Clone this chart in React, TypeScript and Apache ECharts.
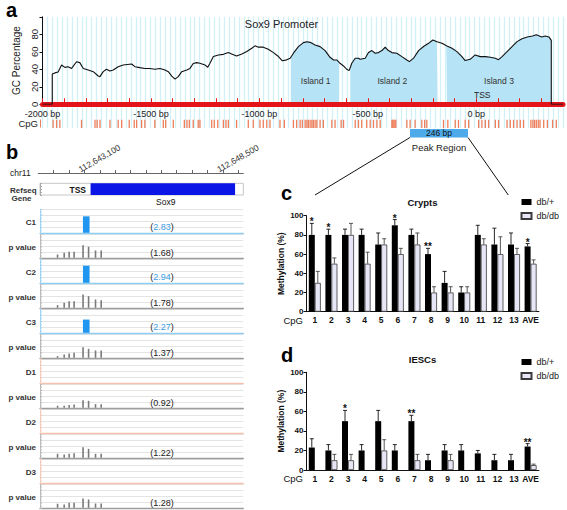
import React, { useEffect, useRef } from 'react';
import * as echarts from 'echarts';

const FONT = '"Liberation Sans", Arial, Helvetica, sans-serif';

// ---------------- panel a : GC profile of the Sox9 promoter ----------------
const gcCurve: number[][] = [
  [-2000, 0], [-1955, 0], [-1955, 34.6], [-1943, 35.9], [-1928, 37], [-1912, 44.9], [-1897, 42.2], [-1882, 43],
  [-1866, 41], [-1843, 48.6], [-1828, 47.6], [-1812, 41], [-1789, 39.2], [-1766, 37.3], [-1743, 32.3], [-1735, 31.6],
  [-1720, 37.3], [-1705, 40], [-1689, 38], [-1674, 39.2], [-1651, 43], [-1628, 45], [-1589, 46], [-1574, 43],
  [-1551, 41.9], [-1528, 41], [-1505, 41], [-1482, 40], [-1458, 41], [-1435, 39.2], [-1420, 37.3], [-1404, 32.3],
  [-1389, 28.8], [-1374, 31.6], [-1358, 37.3], [-1335, 39.2], [-1320, 41], [-1305, 46.7], [-1289, 47.6], [-1274, 46.9],
  [-1251, 45], [-1238, 42.4], [-1228, 46.9], [-1212, 54.6], [-1189, 56.4], [-1166, 57.1], [-1143, 59.1], [-1128, 57.6],
  [-1105, 55.3], [-1081, 57.6], [-1058, 60.3], [-1035, 64.1], [-1020, 66.8], [-1005, 65.3], [-982, 65.3], [-959, 63],
  [-935, 59.1], [-912, 54.6], [-894, 49.7], [-874, 50.8], [-858, 52.7], [-843, 58.4], [-820, 65.9], [-797, 70.5],
  [-781, 71.5], [-766, 70.8], [-743, 67.8], [-720, 65.9], [-697, 61.3], [-674, 53.7], [-658, 50.7], [-643, 50.7],
  [-628, 46.9], [-612, 43.8], [-597, 40], [-586, 38.5], [-574, 46.9], [-558, 52.7], [-543, 52.7], [-535, 51.4],
  [-512, 52.7], [-497, 59.1], [-481, 61.4], [-466, 58.3], [-451, 59.1], [-435, 61.4], [-420, 65.2], [-405, 61.4],
  [-389, 59.1], [-366, 58.3], [-343, 54.5], [-320, 50.7], [-308, 48.8], [-289, 52.7], [-266, 61.4], [-243, 66],
  [-220, 69.7], [-200, 73.5], [-181, 71.6], [-158, 69.7], [-135, 66.7], [-112, 64], [-89, 60.2], [-66, 54.5],
  [-51, 50], [-28, 51.4], [-5, 56.4], [18, 54.5], [42, 54.5], [65, 53.7], [88, 52.7], [103, 51],
  [119, 54.5], [142, 60.2], [165, 65.9], [188, 71.6], [211, 75], [235, 77], [260, 78], [277, 79.5],
  [302, 77], [318, 78], [335, 77], [346, 73], [346, 0], [400, 0],
];
const islandSpans: number[][] = [[-855, -632], [-581, -178], [-138, 346]];
const islandNames = ['Island 1', 'Island 2', 'Island 3'];
const bpRange = [-2000, 400];
const cpgSites = [
  -1951, -1935, -1920, -1820, -1758, -1748, -1735, -1689, -1651, -1635, -1600, -1577, -1566, -1543, -1528, -1482,
  -1443, -1432, -1397, -1346, -1334, -1323, -1305, -1282, -1274, -1220, -1208, -1192, -1166, -1154, -1143, -1105,
  -1051, -1028, -997, -982, -966, -951, -905, -885, -843, -828, -812, -802, -789, -781, -774, -766, -758, -751,
  -743, -735, -720, -705, -666, -651, -623, -612, -558, -543, -528, -505, -489, -474, -458, -443, -389, -385,
  -380, -375, -371, -320, -305, -282, -251, -238, -228, -151, -131, -97, -82, -51, -35, 11, 26, 42, 57, 88,
  103, 142, 157, 172, 188, 203, 218, 252, 261, 269, 277, 286, 294, 311, 328, 352, 369,
];

// ---------------- panel b : genome browser tracks ----------------
const chrRange = [112641500, 112649500];
const chrLabels = [112643100, 112648500];
const chrTicks = [112642100, 112642700, 112643300, 112643900, 112644500, 112645100, 112645700, 112646300,
  112646900, 112647500, 112648100, 112648700, 112649300];
const geneSpan = [112643490, 112649176];
const peakSpan = [112643190, 112643450];
const trackNames = ['C1', 'p value', 'C2', 'p value', 'C3', 'p value', 'D1', 'p value', 'D2', 'p value', 'D3', 'p value'];
const peakScores = [2.83, 2.94, 2.27];
const pScores = [1.68, 1.78, 1.37, 0.92, 1.22, 1.28];
const pBarPos = [112642191, 112642452, 112642647, 112642842, 112643194, 112643412, 112643685, 112643908];
const pBarsC1 = [0.57, 0.86, 1.03, 1.03, 2.17, 1.89, 1.26, 1.26];
const pBarsC2 = [0.46, 0.86, 1.14, 1.14, 2.29, 2.0, 1.43, 1.31];
const pBarsC3 = [0.29, 0.57, 0.74, 0.86, 1.83, 1.54, 1.26, 1.26];
const pBarsD1 = [0.34, 0.34, 0.46, 0.57, 1.31, 1.2, 0.63, 0.63];
const pBarsD2 = [0.69, 0.57, 0.69, 0.8, 1.83, 1.54, 0.69, 0.69];
const pBarsD3 = [0.69, 0.57, 0.86, 0.86, 1.6, 1.43, 0.74, 0.74];
const pBars = [pBarsC1, pBarsC2, pBarsC3, pBarsD1, pBarsD2, pBarsD3];

// ---------------- panels c, d : methylation ----------------
const cpgCats = ['1', '2', '3', '4', '5', '6', '7', '8', '9', '10', '11', '12', '13', 'AVE'];
const cryptsDbPlus = [80, 80, 80, 80, 70, 90, 80, 60, 30, 20, 80, 70, 70, 68];
const cryptsDbPlusErr = [12, 6, 6, 6, 12, 6, 6, 6, 12, 6, 10, 17, 12, 3];
const cryptsDbDb = [30, 50, 80, 50, 70, 60, 70, 20, 20, 20, 70, 60, 60, 50];
const cryptsDbDbErr = [12, 6, 12, 12, 6, 6, 12, 6, 6, 6, 6, 18, 6, 4];
const cryptsSig = ['*', '*', '', '', '', '*', '', '**', '', '', '', '', '', '*'];
const iescDbPlus = [23, 20, 50, 20, 50, 20, 50, 10, 20, 20, 17, 10, 10, 24];
const iescDbPlusErr = [9, 6, 11, 6, 11, 6, 6, 6, 6, 6, 3, 6, 6, 3];
const iescDbDb = [0, 10, 10, 0, 20, 0, 10, 0, 10, 0, 0, 0, 0, 5];
const iescDbDbErr = [0, 6, 6, 0, 11, 0, 6, 0, 6, 0, 0, 0, 0, 1];
const iescSig = ['', '', '*', '', '', '', '**', '', '', '', '', '', '', '**'];

// ---------------- helpers ----------------
function interp(curve: number[][], x: number): number {
  for (let i = 0; i < curve.length - 1; i++) {
    const a = curve[i], b = curve[i + 1];
    if (b[0] > a[0] && x >= a[0] && x <= b[0]) return a[1] + (b[1] - a[1]) * (x - a[0]) / (b[0] - a[0]);
  }
  return 0;
}
function clip(curve: number[][], s: number, e: number): number[][] {
  const out: number[][] = [[s, interp(curve, s)]];
  curve.forEach((p) => { if (p[0] > s && p[0] < e) out.push(p); });
  out.push([e, interp(curve, e)]);
  return out;
}
function txt(text: string, x: number, y: number, o: any = {}): any {
  const align = o.align || 'left';
  const valign = o.valign || 'middle';
  return {
    type: 'text', x, y, silent: true, rotation: o.rotation || 0, z: 100,
    style: {
      text, x: 0, y: 0,
      fill: o.color || '#222',
      font: `${o.weight || 'normal'} ${o.size || 9}px ${FONT}`,
      textAlign: align, textVerticalAlign: valign, align, verticalAlign: valign,
      rich: o.rich,
    },
  };
}

const hiddenX = (grid: number, range: number[]) => ({
  gridIndex: grid, type: 'value', min: range[0], max: range[1], show: false,
});

export default function App() {
  const ref = useRef<HTMLDivElement>(null);
  useEffect(() => {
    document.body.style.margin = '0';
    const chart = echarts.init(ref.current!, null, { renderer: 'svg' });

    const grid: any[] = [];
    const xAxis: any[] = [];
    const yAxis: any[] = [];
    const series: any[] = [];
    const graphic: any[] = [];

    // ===== panel a =====
    grid.push({ left: 42.5, top: 16.8, width: 520.5, height: 87.5 }); // 0
    grid.push({ left: 42.5, top: 107.5, width: 520.5, height: 20.5 }); // 1
    xAxis.push({
      gridIndex: 0, type: 'value', min: bpRange[0], max: bpRange[1], interval: 100, position: 'bottom', z: 3,
      axisLine: { show: true, onZero: false, lineStyle: { color: '#e3151a', width: 5 } },
      axisTick: { show: true, inside: true, length: 6, lineStyle: { color: '#e3151a', width: 1 } },
      axisLabel: {
        fontSize: 9, color: '#222', margin: 5, fontFamily: FONT, showMaxLabel: false,
        formatter: (v: number) => (v % 500 === 0 ? `${v} bp` : ''),
      },
      splitLine: { show: false },
    });
    const stripes = (g: number) => ({
      gridIndex: g, type: 'value', min: 0, max: 106, interval: 1, position: 'top',
      axisLine: { show: false }, axisTick: { show: false }, axisLabel: { show: false },
      splitLine: { show: true, lineStyle: { color: '#d2f0f8', width: 1.3 } },
    });
    xAxis.push(stripes(0));
    xAxis.push(hiddenX(1, bpRange));
    xAxis.push(stripes(1));
    yAxis.push({
      gridIndex: 0, type: 'value', min: 0, max: 100, interval: 20,
      axisLine: { show: true, onZero: false, lineStyle: { color: '#111' } },
      axisTick: { show: true, length: 3, lineStyle: { color: '#111' } },
      axisLabel: { rotate: 90, fontSize: 9.5, color: '#222', margin: 3, fontFamily: FONT,
        formatter: (v: number) => (v === 100 ? '' : String(v)) },
      splitLine: { show: false },
      name: 'GC Percentage', nameLocation: 'middle', nameGap: 18, nameRotate: 90,
      nameTextStyle: { fontSize: 10, color: '#222', fontFamily: FONT },
    });
    yAxis.push({ gridIndex: 1, type: 'value', min: 0, max: 1, show: false });

    islandSpans.forEach((sp) => {
      series.push({
        type: 'line', xAxisIndex: 0, yAxisIndex: 0, data: clip(gcCurve, sp[0], sp[1]), symbol: 'none',
        lineStyle: { width: 0 }, areaStyle: { color: '#b6e3f5', opacity: 1 }, z: 2, silent: true,
      });
    });
    series.push({
      type: 'line', xAxisIndex: 0, yAxisIndex: 0, data: gcCurve, symbol: 'none', z: 4, silent: true,
      lineStyle: { color: '#111', width: 1.1 },
    });
    series.push({
      type: 'custom', xAxisIndex: 2, yAxisIndex: 1, data: cpgSites.map((b) => [b]), silent: true,
      renderItem: (_p: any, api: any) => {
        const a = api.coord([api.value(0), 0]);
        const b = api.coord([api.value(0), 0.4]);
        return { type: 'line', shape: { x1: a[0], y1: a[1], x2: b[0], y2: b[1] },
          style: { stroke: '#ef7f5c', lineWidth: 1.3 } };
      },
    });

    graphic.push(txt('a', 6, 9.5, { size: 20, weight: 'bold', color: '#000' }));
    graphic.push(txt('Sox9 Promoter', 281.5, 23.5, { size: 11, align: 'center', color: '#222' }));
    const islandCx = [315.7, 392.3, 499];
    islandNames.forEach((n, i) => graphic.push(txt(n, islandCx[i], 81, { size: 8.5, align: 'center', color: '#333' })));
    graphic.push(txt('TSS', 474, 95, { size: 8.5, color: '#222' }));
    graphic.push({ type: 'line', silent: true, shape: { x1: 489, y1: 95, x2: 504, y2: 95 }, style: { stroke: '#1f9fc9', lineWidth: 2 } });
    graphic.push({ type: 'polygon', silent: true, shape: { points: [[502, 92.3], [509, 95], [502, 97.7]] }, style: { fill: '#1f9fc9' } });
    graphic.push(txt('CpG', 38, 123.5, { size: 9.5, align: 'right', color: '#222' }));
    graphic.push({ type: 'line', silent: true, shape: { x1: 40.5, y1: 119.5, x2: 40.5, y2: 127.5 }, style: { stroke: '#ef7f5c', lineWidth: 1 } });
    graphic.push({ type: 'rect', silent: true, shape: { x: 410, y: 129, width: 58, height: 8.5 }, style: { fill: '#4faaea' } });
    graphic.push(txt('246 bp', 439, 133.3, { size: 8.5, align: 'center', color: '#111' }));
    graphic.push(txt('Peak Region', 439, 147, { size: 9.5, align: 'center', color: '#222' }));
    graphic.push({ type: 'line', silent: true, shape: { x1: 410, y1: 137.5, x2: 315, y2: 195 }, style: { stroke: '#111', lineWidth: 1 } });
    graphic.push({ type: 'line', silent: true, shape: { x1: 468, y1: 137.5, x2: 508.3, y2: 195 }, style: { stroke: '#111', lineWidth: 1 } });

    // ===== panel b =====
    grid.push({ left: 38.3, top: 173, width: 205, height: 1 }); // 2
    grid.push({ left: 40, top: 183.3, width: 203.3, height: 11.7, show: true, borderColor: '#c6c6c6', borderWidth: 1 }); // 3
    xAxis.push({
      gridIndex: 2, type: 'value', min: chrRange[0], max: chrRange[1], position: 'top',
      axisLine: { show: true, onZero: false, lineStyle: { color: '#666', width: 1 } },
      axisTick: { show: true, customValues: chrTicks, length: 3, lineStyle: { color: '#666' } },
      axisLabel: { customValues: chrLabels, rotate: -30, fontSize: 8.5, color: '#333', margin: 3, fontFamily: FONT,
        formatter: (v: number) => v.toLocaleString('en-US') },
      splitLine: { show: false },
    });
    yAxis.push({ gridIndex: 2, type: 'value', min: 0, max: 1, show: false });
    xAxis.push(hiddenX(3, chrRange));
    yAxis.push({
      gridIndex: 3, type: 'value', min: 0, max: 1, interval: 0.25,
      axisLine: { show: true, onZero: false, lineStyle: { color: '#aaa' } },
      axisTick: { show: true, inside: true, length: 2, lineStyle: { color: '#aaa' } },
      axisLabel: { show: false }, splitLine: { show: false },
    });
    series.push({
      type: 'custom', xAxisIndex: 5, yAxisIndex: 3, silent: true, data: [[geneSpan[0], geneSpan[1]]],
      renderItem: (_p: any, api: any) => {
        const a = api.coord([api.value(0), 1]);
        const b = api.coord([api.value(1), 0]);
        return { type: 'rect', shape: { x: a[0], y: a[1], width: b[0] - a[0], height: b[1] - a[1] }, style: { fill: '#0b16e6' } };
      },
    });
    graphic.push(txt('b', 6, 152, { size: 20, weight: 'bold', color: '#000' }));
    graphic.push(txt('chr11', 10, 173, { size: 8.5, color: '#222' }));
    graphic.push(txt('Refseq', 10, 190, { size: 8, weight: 'bold', color: '#333' }));
    graphic.push(txt('Gene', 11.5, 198.5, { size: 8, weight: 'bold', color: '#333' }));
    graphic.push(txt('TSS', 86, 189.5, { size: 8.5, weight: 'bold', color: '#111', align: 'right' }));
    graphic.push(txt('Sox9', 165.8, 201.7, { size: 8.5, align: 'center', color: '#111' }));

    const kindStyle: any = {
      C: { bottom: '#8fcdf2', ruler: '#9fd3f5' },
      p: { bottom: '#9d9d9d', ruler: '#bbbbbb' },
      D: { bottom: '#f6c2b0', ruler: '#f5cbbd' },
    };
    trackNames.forEach((name, i) => {
      const kind = name === 'p value' ? 'p' : name[0];
      const top = 209.5 + 25 * i;
      const g = grid.length;
      grid.push({ left: 40, top, width: 203.3, height: 23.3 });
      const xi = xAxis.length;
      xAxis.push({
        gridIndex: g, type: 'value', min: chrRange[0], max: chrRange[1],
        axisLine: { show: true, onZero: false, lineStyle: { color: kindStyle[kind].bottom, width: 1.3 } },
        axisTick: { show: false }, axisLabel: { show: false }, splitLine: { show: false },
      });
      const yi = yAxis.length;
      yAxis.push({
        gridIndex: g, type: 'value', min: 0, max: 4, interval: 1,
        axisLine: { show: true, onZero: false, lineStyle: { color: kindStyle[kind].ruler, width: 1 } },
        axisTick: { show: true, inside: true, length: 2, lineStyle: { color: kindStyle[kind].ruler } },
        minorTick: { show: true, splitNumber: 4, length: 1.5, lineStyle: { color: kindStyle[kind].ruler } },
        axisLabel: { show: false },
        splitLine: { show: true, lineStyle: { color: '#e4e4e4', width: 1 } },
      });
      graphic.push(txt(name, 36, top + 13, { size: 8, weight: 'bold', color: '#333', align: 'right' }));
      const pair = Math.floor(i / 2);
      if (kind === 'C') {
        const score = peakScores[pair];
        series.push({
          type: 'custom', xAxisIndex: xi, yAxisIndex: yi, silent: true, data: [[peakSpan[0], peakSpan[1], score]],
          renderItem: (_p: any, api: any) => {
            const a = api.coord([api.value(0), api.value(2)]);
            const b = api.coord([api.value(1), 0]);
            return { type: 'rect', shape: { x: a[0], y: a[1], width: b[0] - a[0], height: b[1] - a[1] }, style: { fill: '#2196f0' } };
          },
        });
        graphic.push(txt(`{p|(}{n|${score.toFixed(2)}}{p|)}`, 162, top + 17.5, {
          size: 9, align: 'center',
          rich: { p: { fill: '#222', color: '#222', fontSize: 9, fontFamily: FONT }, n: { fill: '#3a9ee4', color: '#3a9ee4', fontSize: 9, fontFamily: FONT } },
        }));
      } else if (kind === 'p') {
        const heights = pBars[pair];
        series.push({
          type: 'custom', xAxisIndex: xi, yAxisIndex: yi, silent: true,
          data: pBarPos.map((x, j) => [x, heights[j]]),
          renderItem: (_p: any, api: any) => {
            const a = api.coord([api.value(0), api.value(1)]);
            const b = api.coord([api.value(0), 0]);
            return { type: 'rect', shape: { x: a[0] - 0.8, y: a[1], width: 1.6, height: b[1] - a[1] }, style: { fill: '#7a7a7a' } };
          },
        });
        graphic.push(txt(`(${pScores[pair].toFixed(2)})`, 162, top + 18, { size: 9, align: 'center', color: '#222' }));
      }
    });

    // ===== panels c, d =====
    const barPanel = (top: number, height: number, title: string, letter: string,
      vPlus: number[], ePlus: number[], vDb: number[], eDb: number[], sig: string[], letterY: number, titleY: number) => {
      const g = grid.length;
      grid.push({ left: 306.5, top, width: 232.4, height });
      const xi = xAxis.length;
      xAxis.push({
        gridIndex: g, type: 'category', data: cpgCats,
        axisLine: { show: true, onZero: false, lineStyle: { color: '#111', width: 1 } },
        axisTick: { show: false },
        axisLabel: { fontSize: 8.5, fontWeight: 'bold', color: '#111', margin: 4, interval: 0, fontFamily: FONT },
      });
      const yi = yAxis.length;
      yAxis.push({
        gridIndex: g, type: 'value', min: 0, max: 100, interval: 20,
        axisLine: { show: true, onZero: false, lineStyle: { color: '#111' } },
        axisTick: { show: true, length: 3, lineStyle: { color: '#111' } },
        axisLabel: { fontSize: 8, fontWeight: 'bold', color: '#111', margin: 3, fontFamily: FONT },
        splitLine: { show: false },
        name: 'Methylation (%)', nameLocation: 'middle', nameGap: 21, nameRotate: 90,
        nameTextStyle: { fontSize: 8.5, fontWeight: 'bold', color: '#111', fontFamily: FONT },
      });
      series.push({
        type: 'bar', name: 'db/+', xAxisIndex: xi, yAxisIndex: yi, data: vPlus, barWidth: 6, barGap: '0%',
        itemStyle: { color: '#000' }, silent: true,
      });
      series.push({
        type: 'bar', name: 'db/db', xAxisIndex: xi, yAxisIndex: yi, data: vDb.map((v) => (v === 0 ? '-' : v)),
        barWidth: 6, barGap: '0%', silent: true,
        itemStyle: { color: '#e6e6f7', borderColor: '#3a3a3a', borderWidth: 0.8 },
      });
      const errSeries = (vals: number[], errs: number[], off: number, color: string, marks: string[] | null) => ({
        type: 'custom', xAxisIndex: xi, yAxisIndex: yi, silent: true, z: 5,
        data: vals.map((v, i) => [i, v, errs[i]]),
        renderItem: (p: any, api: any) => {
          const i = api.value(0), v = api.value(1), e = api.value(2);
          const children: any[] = [];
          const base = api.coord([i, v]);
          const tp = api.coord([i, v + e]);
          const x = base[0] + off;
          if (e > 0) {
            children.push({ type: 'line', shape: { x1: x, y1: base[1], x2: x, y2: tp[1] }, style: { stroke: color, lineWidth: 0.9 } });
            children.push({ type: 'line', shape: { x1: x - 2, y1: tp[1], x2: x + 2, y2: tp[1] }, style: { stroke: color, lineWidth: 0.9 } });
          }
          const m = marks ? marks[p.dataIndex] : '';
          if (m) {
            children.push({ type: 'text', x, y: tp[1] - 1.5,
              style: { text: m, fill: '#111', font: `bold 10px ${FONT}`, textAlign: 'center', textVerticalAlign: 'middle', align: 'center', verticalAlign: 'middle' } });
          }
          return { type: 'group', children };
        },
      });
      series.push(errSeries(vPlus, ePlus, -3, '#111', sig));
      series.push(errSeries(vDb, eDb, 3, '#444', null));
      graphic.push(txt(letter, 281, letterY, { size: 20, weight: 'bold', color: '#000' }));
      graphic.push(txt(title, 422.5, titleY, { size: 9.5, weight: 'bold', align: 'center', color: '#111' }));
      graphic.push(txt('CpG', 303, top + height + 8.5, { size: 9.5, align: 'right', color: '#111' }));
    };
    barPanel(215.7, 96, 'Crypts', 'c', cryptsDbPlus, cryptsDbPlusErr, cryptsDbDb, cryptsDbDbErr, cryptsSig, 193, 202);
    barPanel(372.3, 97.7, 'IESCs', 'd', iescDbPlus, iescDbPlusErr, iescDbDb, iescDbDbErr, iescSig, 355, 359.5);

    const legendBase = {
      data: ['db/+', 'db/db'], orient: 'vertical', left: 520.5, itemWidth: 10, itemHeight: 6, itemGap: 5,
      padding: 0, selectedMode: false, icon: 'rect',
      textStyle: { fontSize: 9, color: '#222', fontFamily: FONT },
    };

    chart.setOption({
      animation: false,
      textStyle: { fontFamily: FONT },
      grid, xAxis, yAxis, series, graphic,
      legend: [{ ...legendBase, top: 197.5 }, { ...legendBase, top: 357.5 }],
    });
    return () => chart.dispose();
  }, []);
  return <div ref={ref} style={{ width: 567, height: 510, background: '#fff' }} />;
}
